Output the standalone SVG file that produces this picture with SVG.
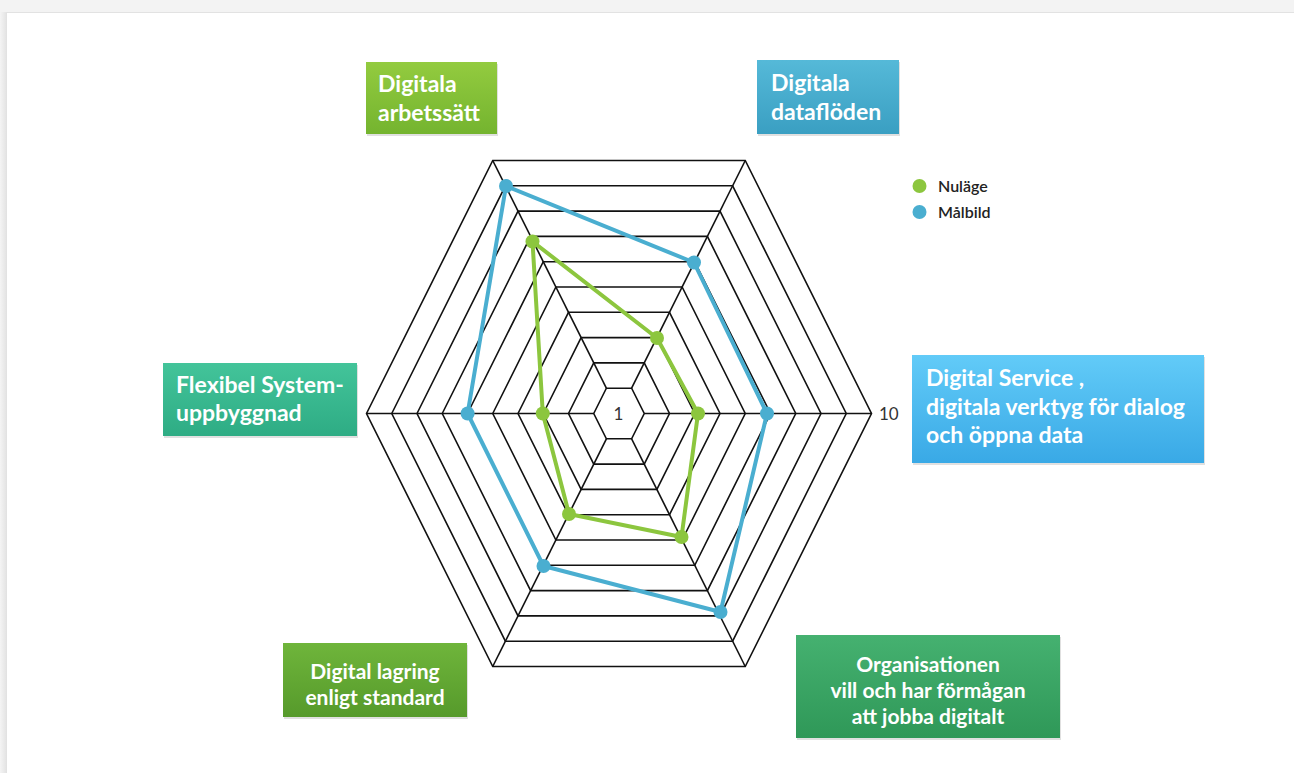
<svg xmlns="http://www.w3.org/2000/svg" width="1294" height="773" viewBox="0 0 1294 773">
<style>
.ring{fill:none;stroke:#111;stroke-width:1.6;stroke-linejoin:miter}
.spoke{stroke:#111;stroke-width:1.6}
.lbl{font-family:Lato,"Liberation Sans",sans-serif;font-weight:bold;font-size:23px;fill:#ffffff}
.lbc{font-family:Lato,"Liberation Sans",sans-serif;font-weight:bold;font-size:21px;fill:#ffffff;text-anchor:middle}
.axis{font-family:Lato,"Liberation Sans",sans-serif;font-size:17px;fill:#333}
.leg{font-family:Lato,"Liberation Sans",sans-serif;font-size:16px;font-weight:600;fill:#222}
.mb{fill:none;stroke:#4aaed0;stroke-width:4;stroke-linejoin:round}
.nu{fill:none;stroke:#8cc63e;stroke-width:4;stroke-linejoin:round}
.db{fill:#4aaed0}
.dg{fill:#8cc63e}
.shadow{fill:#000;opacity:0.12}
</style>
<defs>
<linearGradient id="gA" x1="0" y1="0" x2="0" y2="1"><stop offset="0" stop-color="#93cb3f"/><stop offset="1" stop-color="#74b42f"/></linearGradient>
<linearGradient id="gB" x1="0" y1="0" x2="0" y2="1"><stop offset="0" stop-color="#55b9d8"/><stop offset="1" stop-color="#3a9fc2"/></linearGradient>
<linearGradient id="gC" x1="0" y1="0" x2="0" y2="1"><stop offset="0" stop-color="#62cbf8"/><stop offset="1" stop-color="#39a9e6"/></linearGradient>
<linearGradient id="gD" x1="0" y1="0" x2="0" y2="1"><stop offset="0" stop-color="#45b170"/><stop offset="1" stop-color="#2f9858"/></linearGradient>
<linearGradient id="gE" x1="0" y1="0" x2="0" y2="1"><stop offset="0" stop-color="#6fb53b"/><stop offset="1" stop-color="#569a2b"/></linearGradient>
<linearGradient id="gF" x1="0" y1="0" x2="0" y2="1"><stop offset="0" stop-color="#43c49a"/><stop offset="1" stop-color="#2eac84"/></linearGradient>
<linearGradient id="leftEdge" x1="0" y1="0" x2="1" y2="0"><stop offset="0" stop-color="#f4f4f4"/><stop offset="1" stop-color="#e4e4e4"/></linearGradient>
</defs>

<rect x="0" y="0" width="1294" height="773" fill="#f3f3f3"/>
<rect x="0" y="12" width="6" height="761" fill="url(#leftEdge)"/>
<rect x="6" y="12" width="1288" height="761" fill="#ffffff"/>
<line x1="6" y1="12.5" x2="1294" y2="12.5" stroke="#e2e2e2" stroke-width="1"/>
<line x1="6.5" y1="12" x2="6.5" y2="773" stroke="#e2e2e2" stroke-width="1"/>

<g id="grid">
<polygon class="ring" points="593.75,413.5 606.38,388.2 631.63,388.2 644.25,413.5 631.63,438.8 606.38,438.8"/>
<polygon class="ring" points="568.5,413.5 593.75,362.9 644.25,362.9 669.5,413.5 644.25,464.1 593.75,464.1"/>
<polygon class="ring" points="543.25,413.5 581.13,337.6 656.88,337.6 694.75,413.5 656.88,489.4 581.13,489.4"/>
<polygon class="ring" points="518,413.5 568.5,312.3 669.5,312.3 720,413.5 669.5,514.7 568.5,514.7"/>
<polygon class="ring" points="492.75,413.5 555.88,287 682.13,287 745.25,413.5 682.13,540 555.88,540"/>
<polygon class="ring" points="467.5,413.5 543.25,261.7 694.75,261.7 770.5,413.5 694.75,565.3 543.25,565.3"/>
<polygon class="ring" points="442.25,413.5 530.63,236.4 707.38,236.4 795.75,413.5 707.38,590.6 530.63,590.6"/>
<polygon class="ring" points="417,413.5 518,211.1 720,211.1 821,413.5 720,615.9 518,615.9"/>
<polygon class="ring" points="391.75,413.5 505.38,185.8 732.63,185.8 846.25,413.5 732.63,641.2 505.38,641.2"/>
<polygon class="ring" points="366.5,413.5 492.75,160.5 745.25,160.5 871.5,413.5 745.25,666.5 492.75,666.5"/>
<line class="spoke" x1="593.75" y1="413.5" x2="366.5" y2="413.5"/>
<line class="spoke" x1="644.25" y1="413.5" x2="871.5" y2="413.5"/>
<line class="spoke" x1="606.38" y1="388.2" x2="492.75" y2="160.5"/>
<line class="spoke" x1="631.63" y1="388.2" x2="745.25" y2="160.5"/>
<line class="spoke" x1="631.63" y1="438.8" x2="745.25" y2="666.5"/>
<line class="spoke" x1="606.38" y1="438.8" x2="492.75" y2="666.5"/>
<text class="axis" x="618.5" y="419.5" text-anchor="middle">1</text>
<text class="axis" x="879" y="419.5">10</text>
</g>

<g id="series-malbild">
<polygon class="mb" points="506,186 694,262.5 767,413.5 720.5,612 543.5,566 467.6,413.5"/>
<circle class="db" cx="506" cy="186" r="7"/>
<circle class="db" cx="694" cy="262.5" r="7"/>
<circle class="db" cx="767" cy="413.5" r="7"/>
<circle class="db" cx="720.5" cy="612" r="7"/>
<circle class="db" cx="543.5" cy="566" r="7"/>
<circle class="db" cx="467.6" cy="413.5" r="7"/>
</g>

<g id="series-nulage">
<polygon class="nu" points="532.5,241.5 657,338 698,413.5 681.5,537 569,514 542.8,413.5"/>
<circle class="dg" cx="532.5" cy="241.5" r="7"/>
<circle class="dg" cx="657" cy="338" r="7"/>
<circle class="dg" cx="698" cy="413.5" r="7"/>
<circle class="dg" cx="681.5" cy="537" r="7"/>
<circle class="dg" cx="569" cy="514" r="7"/>
<circle class="dg" cx="542.8" cy="413.5" r="7"/>
</g>

<g id="legend">
<circle class="dg" cx="919.5" cy="186" r="7"/>
<text class="leg" x="938" y="191.5">Nuläge</text>
<circle class="db" cx="919.5" cy="212" r="7"/>
<text class="leg" x="938" y="217.5">Målbild</text>
</g>

<g id="node-arbetssatt">
<rect class="shadow" x="367" y="64" width="131" height="72"/>
<rect x="366" y="62" width="131" height="72" fill="url(#gA)"/>
<text class="lbl" x="378" y="92">Digitala</text>
<text class="lbl" x="378" y="121">arbetssätt</text>
</g>

<g id="node-datafloden">
<rect class="shadow" x="758" y="62" width="142" height="74"/>
<rect x="757" y="60" width="142" height="74" fill="url(#gB)"/>
<text class="lbl" x="771" y="91">Digitala</text>
<text class="lbl" x="771" y="120">dataflöden</text>
</g>

<g id="node-service">
<rect class="shadow" x="913" y="357" width="292" height="108"/>
<rect x="912" y="355" width="292" height="108" fill="url(#gC)"/>
<text class="lbl" x="926" y="386">Digital Service ,</text>
<text class="lbl" x="926" y="415">digitala verktyg för dialog</text>
<text class="lbl" x="926" y="443">och öppna data</text>
</g>

<g id="node-organisationen">
<rect class="shadow" x="797" y="637" width="264" height="103"/>
<rect x="796" y="635" width="264" height="103" fill="url(#gD)"/>
<text class="lbc" x="928" y="672">Organisationen</text>
<text class="lbc" x="928" y="698">vill och har förmågan</text>
<text class="lbc" x="928" y="724">att jobba digitalt</text>
</g>

<g id="node-lagring">
<rect class="shadow" x="284" y="645" width="184" height="74"/>
<rect x="283" y="643" width="184" height="74" fill="url(#gE)"/>
<text class="lbc" x="375" y="679">Digital lagring</text>
<text class="lbc" x="375" y="705">enligt standard</text>
</g>

<g id="node-flexibel">
<rect class="shadow" x="164" y="365" width="194" height="73"/>
<rect x="163" y="363" width="194" height="73" fill="url(#gF)"/>
<text class="lbl" x="176" y="393">Flexibel System-</text>
<text class="lbl" x="176" y="421">uppbyggnad</text>
</g>
</svg>
